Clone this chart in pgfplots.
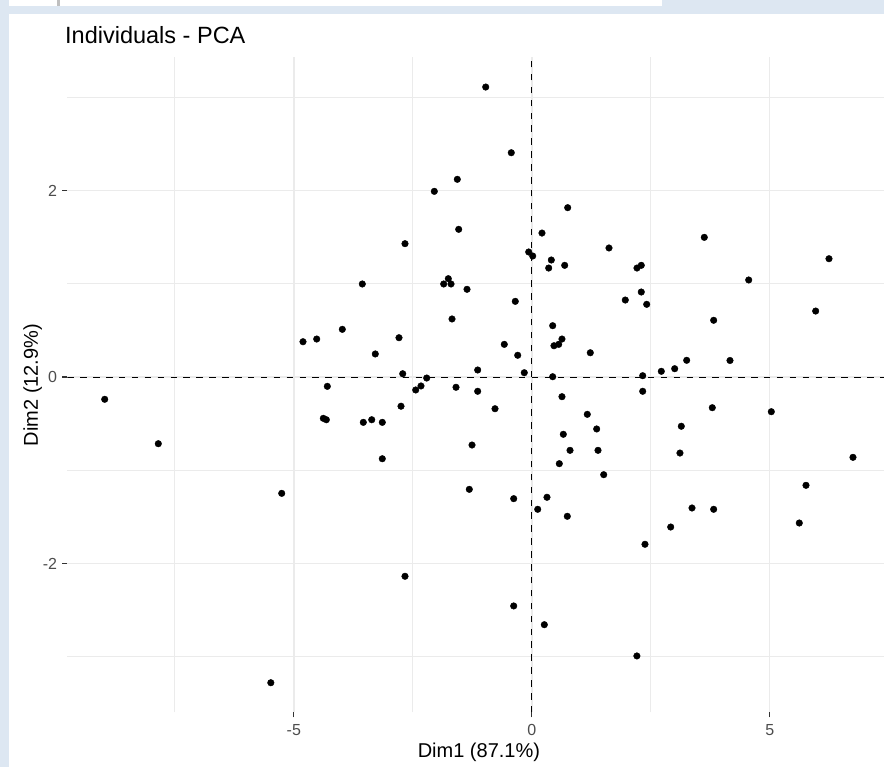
\documentclass[border=0pt]{standalone}
\usepackage{pgfplots}
\usepackage{pgfplotstable}
\pgfplotsset{compat=1.18}
\usepackage{fontspec}
\setmainfont{Liberation Sans}

\definecolor{frameblue}{RGB}{221,231,242}
\definecolor{gridgray}{RGB}{235,235,235}
\definecolor{ticktext}{RGB}{77,77,77}
\definecolor{tickmark}{RGB}{51,51,51}

% Individual coordinates on the first two principal components
\pgfplotstableread{
x y
-0.968 3.108
-0.431 2.404
-1.565 2.119
-2.048 1.990
0.754 1.815
-1.536 1.583
-2.664 1.429
0.214 1.543
1.622 1.383
-0.065 1.340
0.019 1.297
0.410 1.254
0.355 1.168
0.691 1.197
2.210 1.168
2.300 1.197
3.624 1.497
6.244 1.268
4.557 1.040
-1.754 1.054
-1.851 0.997
-1.697 0.997
-1.361 0.940
-3.561 0.997
2.300 0.911
1.964 0.825
2.414 0.779
-0.347 0.811
3.821 0.608
5.964 0.707
-1.676 0.622
0.439 0.550
-3.981 0.511
-4.807 0.378
-4.519 0.407
-2.790 0.421
-0.578 0.350
0.634 0.407
0.466 0.335
0.565 0.350
-3.288 0.247
-0.296 0.233
1.229 0.260
3.254 0.179
4.164 0.177
-4.296 -0.100
-8.973 -0.239
-2.748 -0.313
-4.380 -0.443
-4.317 -0.458
-3.540 -0.486
-3.363 -0.458
-3.141 -0.486
-7.847 -0.715
-3.141 -0.876
-5.254 -1.247
-2.712 0.035
-1.137 0.075
-0.158 0.046
0.439 0.003
-2.439 -0.139
-2.328 -0.096
-2.208 -0.011
-1.592 -0.110
-1.137 -0.153
-0.773 -0.340
0.634 -0.211
1.166 -0.400
1.363 -0.557
0.662 -0.614
0.803 -0.786
1.391 -0.786
0.578 -0.929
1.511 -1.047
-1.256 -0.729
-1.313 -1.204
-0.380 -1.304
0.319 -1.289
0.124 -1.418
0.746 -1.493
2.330 0.014
2.330 -0.153
2.721 0.061
3.002 0.089
3.141 -0.528
3.113 -0.815
3.366 -1.404
2.918 -1.608
2.378 -1.793
-2.664 -2.136
-0.380 -2.454
0.263 -2.655
2.208 -2.990
3.792 -0.329
5.032 -0.372
6.748 -0.861
5.761 -1.161
3.821 -1.418
5.620 -1.565
-5.483 -3.277
}\indiv

\begin{document}
\begin{tikzpicture}[x=1pt,y=1pt]
\path[use as bounding box] (0,0) rectangle (884,767);
% window frame around the plot
\fill[frameblue] (0,0) rectangle (884,767);
\fill[white] (9,761) rectangle (662,767);
\fill[black!25] (57,761) rectangle (60,767);
\fill[white] (9,0) rectangle (884,753);

\begin{axis}[
  at={(67.3pt,54.5pt)}, anchor=south west,
  scale only axis, width=823.1pt, height=655.2pt,
  xmin=-9.759, xmax=7.534, ymin=-3.596, ymax=3.427,
  axis line style={draw=none},
  xtick={-5,0,5}, xticklabels={-5,0,5},
  ytick={-2,0,2}, yticklabels={-2,0,2},
  minor xtick={-7.5,-2.5,2.5,7.5},
  minor ytick={-3,-1,1,3},
  grid=both,
  major grid style={gridgray, line width=1.4pt},
  minor grid style={gridgray, line width=0.8pt},
  tick pos=left,
  tick align=outside,
  major tick length=5pt,
  minor tick length=0pt,
  major tick style={tickmark, line width=1.1pt},
  minor tick style={draw=none},
  tick label style={font=\fontsize{16}{19}\selectfont, text=ticktext},
  xticklabel style={anchor=north, inner sep=0pt, yshift=-7pt},
  yticklabel style={anchor=east, inner sep=0pt, xshift=-5pt},
]
\addplot[black, line width=1.0pt, dash pattern=on 6.5pt off 6.4pt]
  coordinates {(0,-3.596) (0,3.427)};
\addplot[black, line width=1.0pt, dash pattern=on 6.5pt off 6.4pt]
  coordinates {(-9.759,0) (7.534,0)};
\addplot[only marks, mark=*, mark size=3.3pt,
  mark options={draw=none, fill=black}] table {\indiv};
\end{axis}

\node[anchor=base west, inner sep=0pt, font=\fontsize{23.5}{28}\selectfont]
  at (65,723.5) {Individuals - PCA};
\node[anchor=base, inner sep=0pt, font=\fontsize{20}{24}\selectfont]
  at (478.9,9) {Dim1 (87.1\%)};
\node[anchor=base, rotate=90, inner sep=0pt, font=\fontsize{20}{24}\selectfont]
  at (38,382) {Dim2 (12.9\%)};
\end{tikzpicture}
\end{document}
